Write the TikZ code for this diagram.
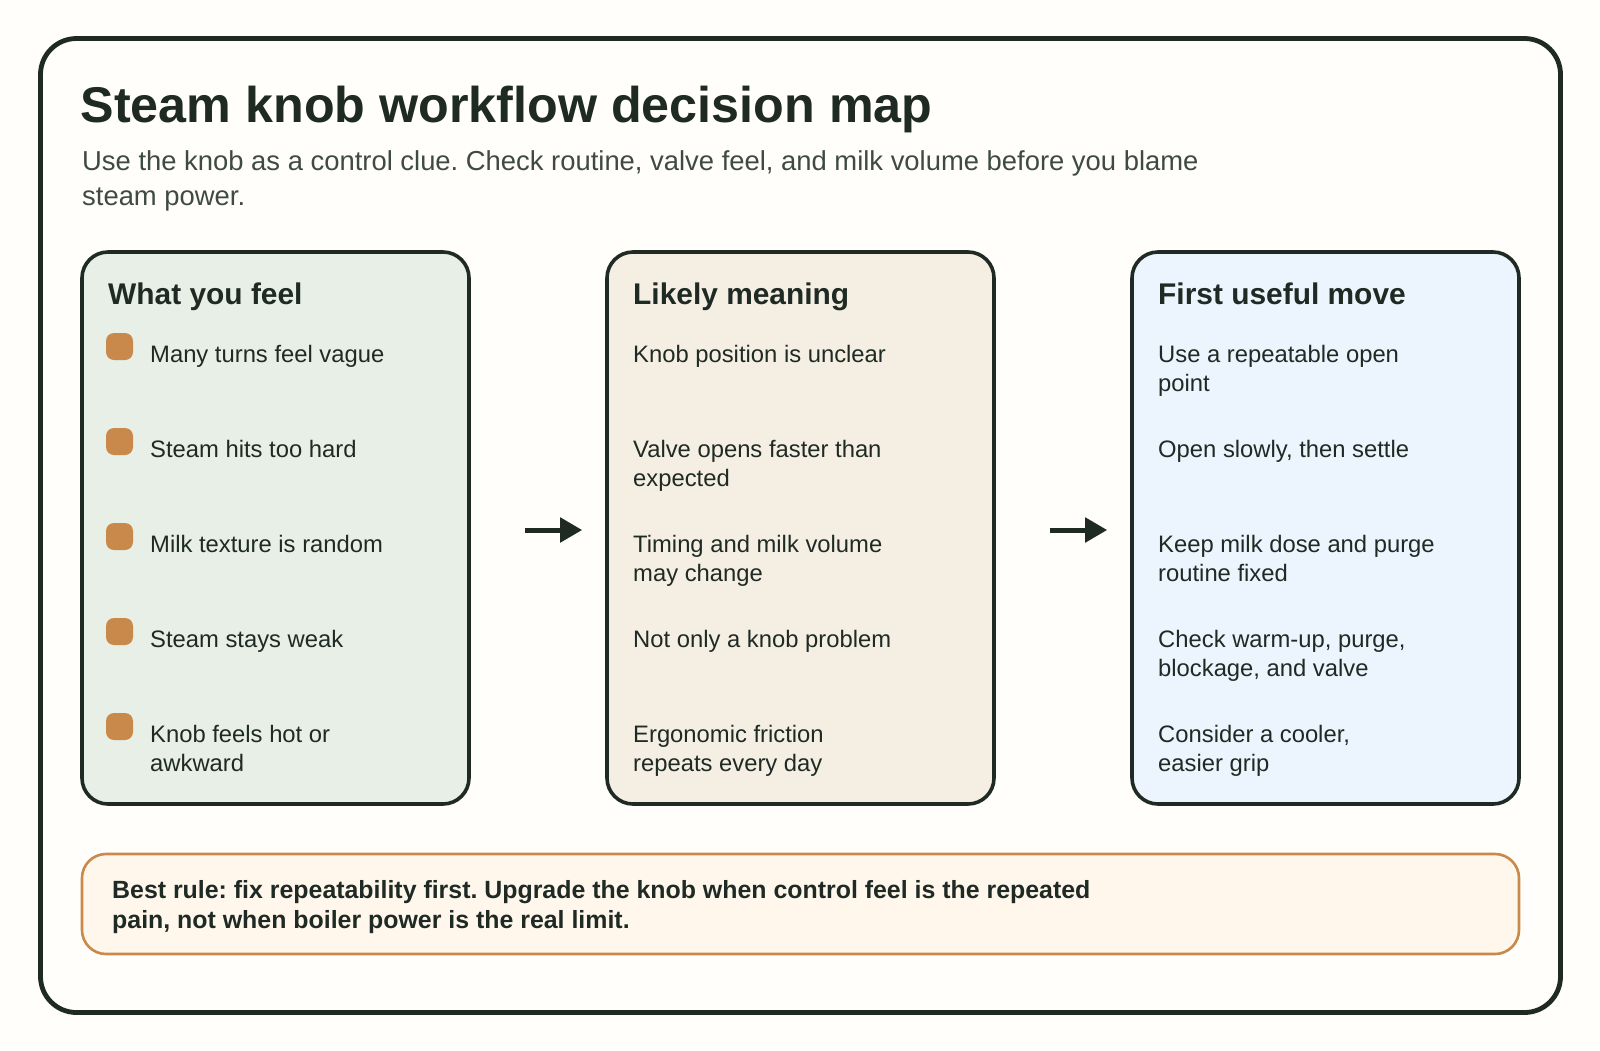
\documentclass[tikz,border=0pt]{standalone}
\usepackage{fontspec}
\setmainfont{Liberation Sans}
\usepackage{xcolor}
\usetikzlibrary{arrows.meta}
\frenchspacing

\definecolor{ink}{HTML}{1F2A24}
\definecolor{paper}{HTML}{FFFEFA}
\definecolor{subink}{HTML}{3F4A45}
\definecolor{copper}{HTML}{C8894A}
\definecolor{sage}{HTML}{E7EFE6}
\definecolor{sand}{HTML}{F5EFE3}
\definecolor{sky}{HTML}{ECF4FD}
\definecolor{cream}{HTML}{FFF7EC}

\tikzset{
  frame/.style={draw=ink, line width=4.8pt, rounded corners=36pt, fill=paper},
  panel/.style={draw=ink, line width=3.6pt, rounded corners=26pt, minimum width=387pt, minimum height=552pt, inner sep=0pt},
  callout/.style={draw=copper, line width=2.6pt, fill=cream, rounded corners=24pt, minimum width=1437pt, minimum height=100pt, inner sep=0pt},
  bullet/.style={fill=copper, rounded corners=8pt, minimum size=27pt, inner sep=0pt},
  flowarrow/.style={draw=ink, line width=5pt, -{Triangle[length=22pt,width=24pt]}, shorten <=54pt, shorten >=23pt},
  titletext/.style={anchor=base west, inner sep=0pt, text=ink, font=\fontsize{50.25}{58}\selectfont\bfseries},
  subtext/.style={anchor=north west, inner sep=0pt, align=left, text=subink, font=\fontsize{27.4}{35}\selectfont},
  headtext/.style={anchor=base west, inner sep=0pt, text=ink, font=\fontsize{29.9}{36}\selectfont\bfseries},
  rowtext/.style={anchor=north west, inner sep=0pt, align=left, text=ink, font=\fontsize{23.8}{29.3}\selectfont},
  calltext/.style={anchor=north west, inner sep=0pt, align=left, text=ink, font=\fontsize{24.9}{30}\selectfont\bfseries}
}

\begin{document}
\begin{tikzpicture}[x=1pt,y=-1pt]

\useasboundingbox[fill=paper] (0,0) rectangle (1600,1050);

\node[coordinate] (mid) at (0,530) {};

% outer card
\draw[frame] (40.5,38.5) rectangle (1560.5,1012.5);

\node[titletext] (title) at (80.5,122.5) {Steam knob workflow decision map};
\node[subtext] (sub) at (82,150) {Use the knob as a control clue. Check routine, valve feel, and milk volume before you blame\\steam power.};

% panels
\node[panel, fill=sage] (feel) at (275.5,528) {};
\node[panel, fill=sand] (meaning) at (800.5,528) {};
\node[panel, fill=sky] (move) at (1325.5,528) {};

\draw[flowarrow] (feel.east |- mid) -- (meaning.west |- mid);
\draw[flowarrow] (meaning.east |- mid) -- (move.west |- mid);

\node[headtext] (h1) at (108,304) {What you feel};
\node[headtext] (h2) at (633,304) {Likely meaning};
\node[headtext] (h3) at (1158,304) {First useful move};

% first column
\node[bullet] (b1) at (119.5,346.5) {};
\node[bullet] (b2) at (119.5,441.5) {};
\node[bullet] (b3) at (119.5,536.5) {};
\node[bullet] (b4) at (119.5,631.5) {};
\node[bullet] (b5) at (119.5,726.5) {};

\node[rowtext] (f1) at (150,345) {Many turns feel vague};
\node[rowtext] (f2) at (150,440) {Steam hits too hard};
\node[rowtext] (f3) at (150,535) {Milk texture is random};
\node[rowtext] (f4) at (150,630) {Steam stays weak};
\node[rowtext] (f5) at (150,725) {Knob feels hot or\\awkward};

% second column
\node[rowtext] (m1) at (633,345) {Knob position is unclear};
\node[rowtext] (m2) at (633,440) {Valve opens faster than\\expected};
\node[rowtext] (m3) at (633,535) {Timing and milk volume\\may change};
\node[rowtext] (m4) at (633,630) {Not only a knob problem};
\node[rowtext] (m5) at (633,725) {Ergonomic friction\\repeats every day};

% third column
\node[rowtext] (u1) at (1158,345) {Use a repeatable open\\point};
\node[rowtext] (u2) at (1158,440) {Open slowly, then settle};
\node[rowtext] (u3) at (1158,535) {Keep milk dose and purge\\routine fixed};
\node[rowtext] (u4) at (1158,630) {Check warm-up, purge,\\blockage, and valve};
\node[rowtext] (u5) at (1158,725) {Consider a cooler,\\easier grip};

% bottom rule
\node[callout] (rule) at (800.5,904) {};
\node[calltext] (ruletext) at (112,880) {Best rule: fix repeatability first. Upgrade the knob when control feel is the repeated\\pain, not when boiler power is the real limit.};

\end{tikzpicture}
\end{document}
